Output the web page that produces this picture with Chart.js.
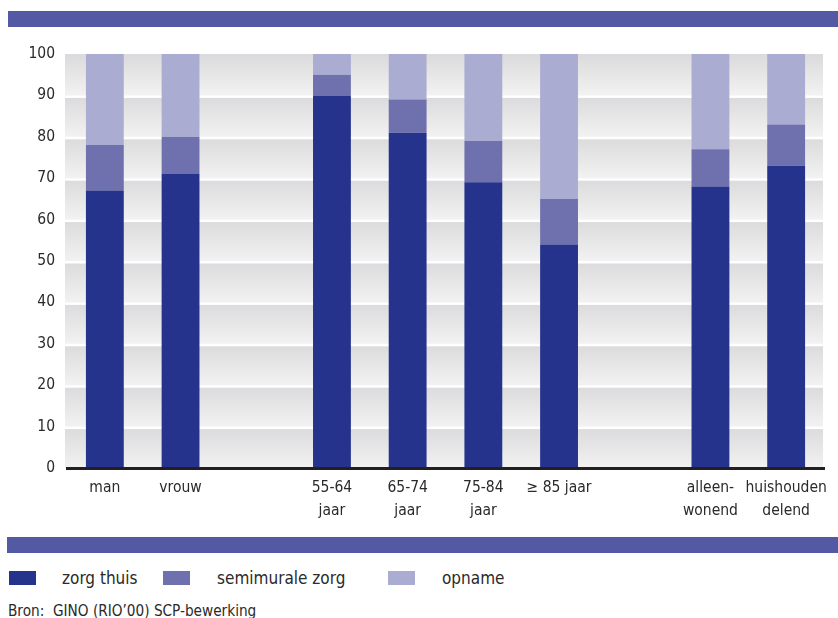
<!DOCTYPE html>
<html>
<head>
<meta charset="utf-8">
<script src="https://cdn.jsdelivr.net/npm/chart.js@4/dist/chart.umd.min.js"></script>
<style>
  html, body { margin: 0; padding: 0; background: #fff; }
  body { width: 838px; height: 618px; position: relative; overflow: hidden;
         font-family: 'DejaVu Sans Condensed', 'DejaVu Sans', sans-serif; color: #2a2a2a; }
  .band { position: absolute; left: 8px; right: 0; height: 16px; background: #5359a3; }
  #wrap { position: absolute; left: 0; top: 0; width: 838px; height: 530px; }
  .legend { position: absolute; top: 566px; left: 0; width: 838px; height: 24px; font-size: 17px; }
  .legend .box { position: absolute; top: 5px; width: 27px; height: 14px; }
  .legend .lbl { position: absolute; top: 0; line-height: 24px; }
  .source { position: absolute; left: 8px; top: 601px; font-size: 15.2px; line-height: 20px; }
</style>
</head>
<body>
<div class="band" style="top:11px"></div>
<div id="wrap"><canvas id="c" width="838" height="530"></canvas></div>
<div class="band" style="top:537px;left:7px"></div>
<div class="legend" id="legend"></div>
<div class="source">Bron:&nbsp; GINO (RIO’00) SCP-bewerking</div>
<script>
// Categories (empty strings leave a gap between the groups)
const categories = [
  ['man'], ['vrouw'], [''],
  ['55-64', 'jaar'], ['65-74', 'jaar'], ['75-84', 'jaar'], ['≥ 85 jaar'], [''],
  ['alleen-', 'wonend'], ['huishouden', 'delend']
];
// Share of each type of care, per category (percent)
const zorgThuis      = [67, 71, null, 90, 81, 69, 54, null, 68, 73];
const semimuraleZorg = [11,  9, null,  5,  8, 10, 11, null,  9, 10];
const opname         = [22, 20, null,  5, 11, 21, 35, null, 23, 17];
const seriesNames  = ['zorg thuis', 'semimurale zorg', 'opname'];
const seriesColors = ['#25338c', '#6f71ae', '#abacd2'];
const yTicks = [0, 10, 20, 30, 40, 50, 60, 70, 80, 90, 100];

const FONT = "'DejaVu Sans Condensed', 'DejaVu Sans', sans-serif";
const TEXT = '#2a2a2a';

// Banded grey background with a soft gradient per 10-point band and white separators
const bandedBackground = {
  id: 'bandedBackground',
  beforeDatasetsDraw(chart) {
    const { ctx, chartArea: a, scales: { y } } = chart;
    const left = a.left - 2, w = a.right - a.left + 1;
    ctx.save();
    for (let i = 0; i < yTicks.length - 1; i++) {
      const yb = y.getPixelForValue(yTicks[i]);
      const yt = y.getPixelForValue(yTicks[i + 1]);
      const g = ctx.createLinearGradient(0, yt, 0, yb);
      g.addColorStop(0, '#dadadc');
      g.addColorStop(1, '#f2f2f2');
      ctx.fillStyle = g;
      ctx.fillRect(left, yt, w, yb - yt);
    }
    ctx.fillStyle = '#ffffff';
    for (let i = 1; i < yTicks.length - 1; i++) {
      const yp = y.getPixelForValue(yTicks[i]);
      ctx.fillRect(left, yp, w, 2.5);
    }
    ctx.restore();
  },
  afterDatasetsDraw(chart) {
    const { ctx, chartArea: a, scales: { y } } = chart;
    const y0 = y.getPixelForValue(0);
    ctx.save();
    ctx.fillStyle = '#231f20';
    ctx.fillRect(a.left - 1, y0 - 1, a.right - a.left + 2, 3);
    ctx.restore();
  }
};

new Chart(document.getElementById('c'), {
  type: 'bar',
  data: {
    labels: categories,
    datasets: [zorgThuis, semimuraleZorg, opname].map((d, i) => ({
      label: seriesNames[i],
      data: d,
      backgroundColor: seriesColors[i],
      borderWidth: 0,
      barPercentage: 0.5,
      categoryPercentage: 1.0
    }))
  },
  options: {
    responsive: false,
    animation: false,
    layout: { padding: { left: 0, right: 14, top: 54, bottom: 0 } },
    plugins: { legend: { display: false }, tooltip: { enabled: false } },
    scales: {
      x: {
        stacked: true,
        grid: { display: false, drawTicks: false },
        border: { display: false },
        ticks: { color: TEXT, font: { family: FONT, size: 15.5, lineHeight: 1.5 }, padding: 8, maxRotation: 0, autoSkip: false },
        afterFit(s) { s.height = 62; }
      },
      y: {
        stacked: true,
        min: 0, max: 100,
        grid: { display: false, drawTicks: false },
        border: { display: false },
        ticks: { stepSize: 10, color: TEXT, font: { family: FONT, size: 15.5 }, padding: 12 },
        afterFit(s) { s.width = 67; }
      }
    }
  },
  plugins: [bandedBackground]
});

// Legend row
const legend = document.getElementById('legend');
const boxX = [9, 163, 388], lblX = [62, 217, 442];
seriesNames.forEach((n, i) => {
  const b = document.createElement('div');
  b.className = 'box'; b.style.left = boxX[i] + 'px'; b.style.background = seriesColors[i];
  const l = document.createElement('div');
  l.className = 'lbl'; l.style.left = lblX[i] + 'px'; l.textContent = n;
  legend.appendChild(b); legend.appendChild(l);
});
</script>
</body>
</html>
